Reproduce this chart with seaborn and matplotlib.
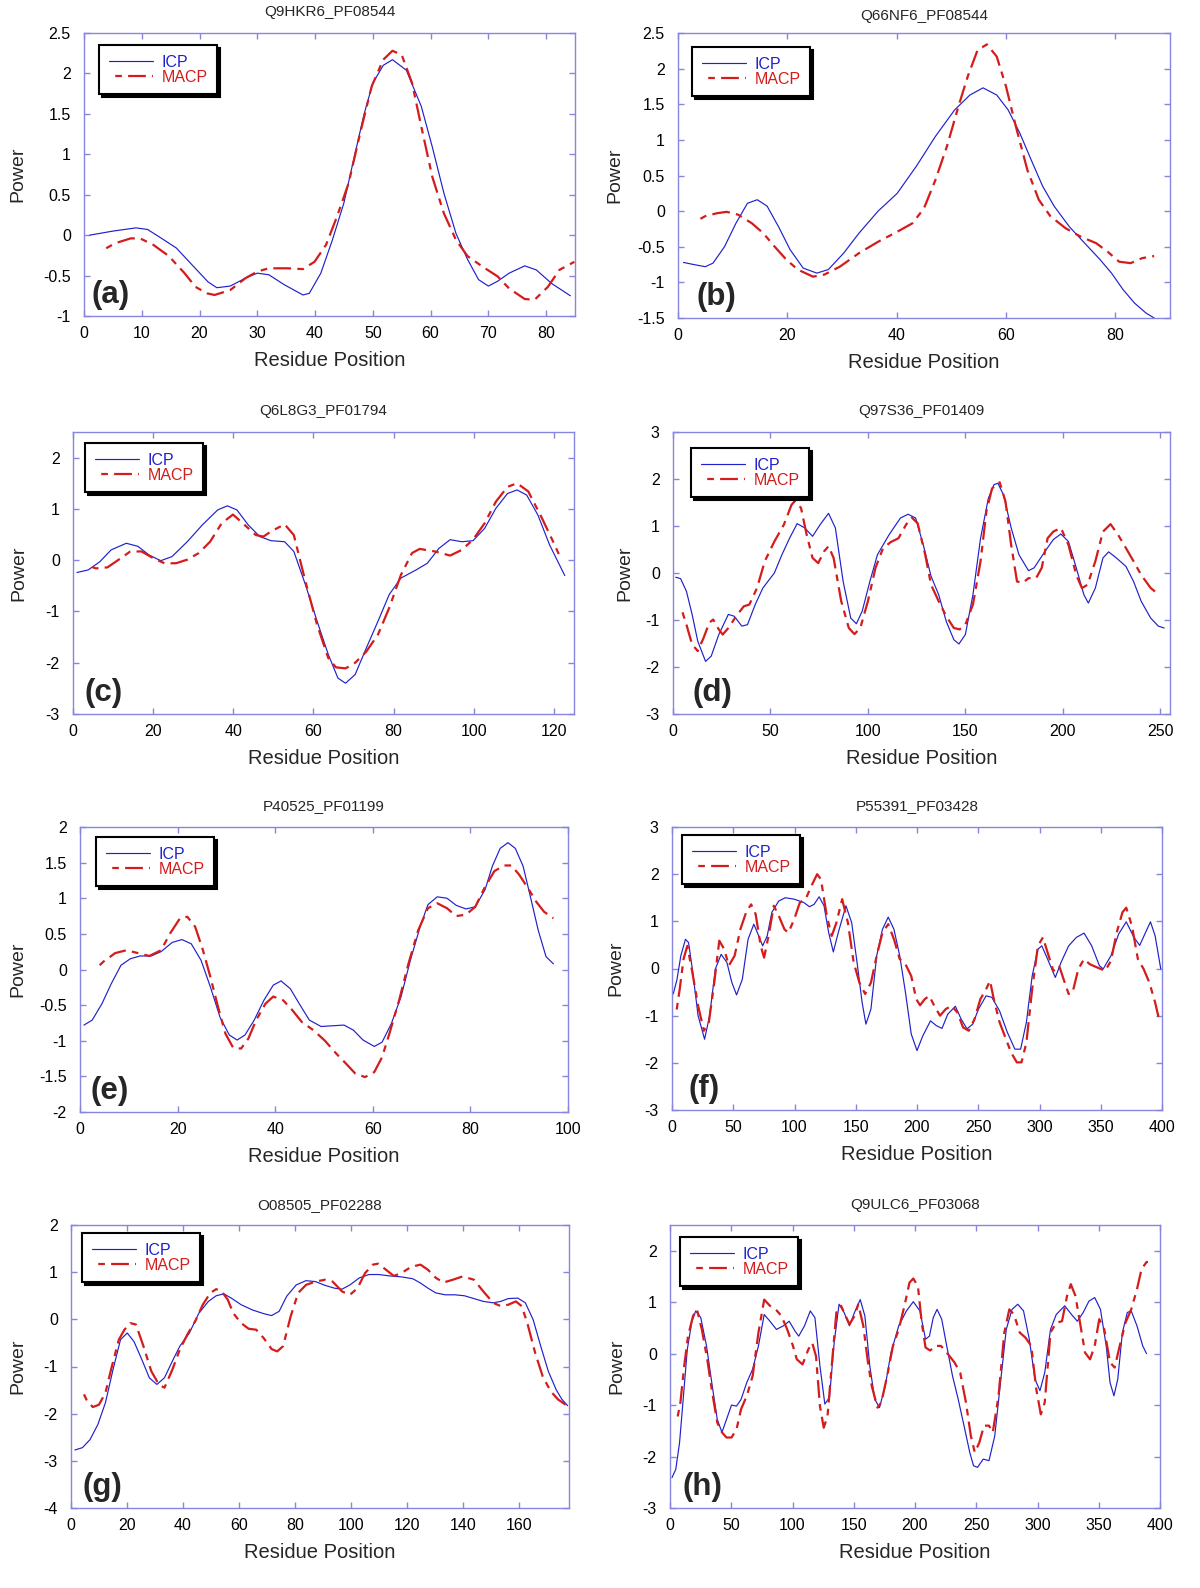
import matplotlib
matplotlib.use("Agg")
import matplotlib.pyplot as plt
from matplotlib.ticker import MultipleLocator, FuncFormatter
import pandas as pd
import seaborn as sns

# ---- values: residue position / power ----
a_icp_x = [1, 5, 9, 11, 13, 16, 19, 21.5, 23, 25.3, 28, 30, 32, 34.6, 37.9, 39, 41, 43, 45, 46.8, 48.5, 50, 51.8, 53.4, 55.8, 58.4, 60.3, 62.3, 64.4, 66.4, 68.3, 70, 71.6, 73.6, 76.3, 78.3, 81, 84.2]
a_icp_y = [0.0, 0.05, 0.09, 0.07, -0.02, -0.16, -0.39, -0.58, -0.65, -0.63, -0.53, -0.47, -0.49, -0.61, -0.74, -0.72, -0.47, -0.06, 0.4, 0.97, 1.5, 1.88, 2.1, 2.17, 2.04, 1.59, 1.09, 0.52, 0.02, -0.3, -0.55, -0.63, -0.57, -0.47, -0.38, -0.43, -0.6, -0.75]
a_macp_x = [2.9, 5.4, 8.1, 9.7, 12, 14.7, 17.4, 19.3, 21.3, 22.6, 25.3, 28, 30, 32, 35.2, 37.9, 39.9, 41.9, 43.8, 45.8, 47.8, 49.8, 51.8, 53.4, 55, 56.8, 58.4, 60.3, 62.3, 64.4, 66.4, 69, 71.6, 73.6, 76.3, 78, 80.3, 82.3, 84.9]
a_macp_y = [-0.2, -0.1, -0.04, -0.04, -0.12, -0.26, -0.47, -0.64, -0.72, -0.74, -0.68, -0.53, -0.45, -0.41, -0.41, -0.42, -0.33, -0.12, 0.23, 0.64, 1.26, 1.84, 2.17, 2.28, 2.23, 1.88, 1.34, 0.72, 0.27, -0.06, -0.26, -0.39, -0.51, -0.66, -0.79, -0.8, -0.64, -0.43, -0.33]

b_icp_x = [1, 2.9, 5, 6.4, 8.5, 10.6, 12.7, 14.5, 16.3, 18.4, 20.5, 22.9, 25.4, 27.5, 30.3, 33.1, 36.6, 40.1, 43.6, 47.1, 50.6, 53.4, 55.8, 58.3, 60.4, 62.5, 64.6, 66.7, 68.8, 71.6, 74.4, 77.2, 79.3, 81.4, 83.5, 85.6, 87.1]
b_icp_y = [-0.72, -0.75, -0.78, -0.73, -0.5, -0.17, 0.11, 0.16, 0.07, -0.22, -0.54, -0.8, -0.87, -0.82, -0.59, -0.31, 0.0, 0.25, 0.63, 1.05, 1.42, 1.63, 1.73, 1.63, 1.42, 1.1, 0.72, 0.35, 0.07, -0.22, -0.45, -0.68, -0.87, -1.1, -1.29, -1.43, -1.5]
b_macp_x = [3.1, 5, 7.1, 8.9, 11, 13.5, 15.6, 17.7, 19.8, 21.9, 24.7, 26.8, 29.6, 33.1, 36.6, 40.1, 42.9, 45, 47.1, 49.2, 51.3, 53, 54.8, 56.5, 58.3, 60, 61.8, 63.9, 66, 68.1, 70.9, 73.7, 76.5, 78.6, 80.7, 82.8, 84.9, 87.1]
b_macp_y = [-0.15, -0.07, -0.03, -0.01, -0.05, -0.17, -0.31, -0.5, -0.68, -0.82, -0.92, -0.89, -0.78, -0.59, -0.43, -0.29, -0.17, 0.04, 0.44, 0.91, 1.47, 1.89, 2.26, 2.34, 2.17, 1.75, 1.19, 0.58, 0.16, -0.07, -0.24, -0.36, -0.45, -0.57, -0.71, -0.73, -0.66, -0.63]

c_icp_x = [1, 3.8, 6.7, 9.5, 13.3, 16.2, 19, 21.9, 24.7, 28.5, 32.3, 36.1, 38.5, 40.9, 43.7, 46.6, 49.4, 52.8, 55.1, 58, 60.9, 63.7, 66.1, 68, 70.4, 73.2, 76.1, 78.9, 81.8, 85.6, 88.4, 91.3, 94.1, 97, 99.8, 102.7, 105.5, 108.4, 110.8, 113.2, 116, 118.9, 122.7]
c_icp_y = [-0.24, -0.19, -0.03, 0.2, 0.33, 0.27, 0.1, -0.01, 0.07, 0.36, 0.69, 0.98, 1.06, 0.98, 0.69, 0.46, 0.38, 0.36, 0.17, -0.48, -1.19, -1.84, -2.3, -2.4, -2.23, -1.71, -1.19, -0.67, -0.35, -0.19, -0.06, 0.23, 0.4, 0.36, 0.38, 0.62, 1.01, 1.3, 1.37, 1.27, 0.88, 0.3, -0.3]
c_macp_x = [3.3, 5.7, 8.6, 11.4, 14.3, 17.1, 20, 22.8, 25.7, 28.5, 31.4, 34.2, 37.1, 39.9, 42.8, 45.6, 47.5, 49.4, 52.8, 55.1, 58, 60.9, 63.7, 65.6, 68, 70.4, 73.2, 76.1, 78.9, 81.8, 84.6, 86.5, 90.3, 94.1, 97, 99.8, 102.7, 105.5, 108.4, 110.8, 113.6, 117, 119.8, 121.2]
c_macp_y = [-0.09, -0.16, -0.14, 0.01, 0.17, 0.17, 0.04, -0.06, -0.06, 0.01, 0.14, 0.36, 0.72, 0.89, 0.69, 0.49, 0.46, 0.56, 0.7, 0.49, -0.42, -1.26, -1.91, -2.09, -2.11, -2.0, -1.78, -1.45, -0.93, -0.29, 0.14, 0.22, 0.17, 0.09, 0.2, 0.4, 0.72, 1.14, 1.43, 1.5, 1.34, 0.82, 0.36, 0.12]

d_icp_x = [1.4, 3.9, 6.9, 9.8, 12.7, 16.7, 19.6, 23.5, 28.4, 31.4, 35.3, 38.2, 42.2, 46.1, 52, 55.9, 59.8, 63.7, 67.6, 71.6, 75.5, 79.8, 83.3, 87.3, 91.2, 94.1, 97.1, 101, 104.9, 110.8, 116.7, 120.6, 124.5, 128.4, 132.4, 136.3, 140.2, 144.1, 146.7, 150, 153.9, 157.8, 161.8, 164.7, 166.7, 169.6, 173.5, 177.5, 182.4, 185.3, 190.2, 195.1, 199, 202.9, 206.9, 210.8, 213.1, 216.7, 220.6, 223.5, 227.5, 232.4, 236.3, 240.2, 245.1, 249, 252]
d_icp_y = [-0.09, -0.12, -0.39, -0.88, -1.45, -1.88, -1.77, -1.31, -0.88, -0.92, -1.13, -1.1, -0.67, -0.32, 0.0, 0.39, 0.74, 1.05, 0.96, 0.78, 1.03, 1.27, 0.96, -0.18, -0.96, -1.08, -0.81, -0.18, 0.39, 0.81, 1.17, 1.25, 1.17, 0.6, -0.07, -0.46, -1.03, -1.42, -1.51, -1.31, -0.46, 0.74, 1.59, 1.88, 1.91, 1.66, 0.96, 0.39, 0.05, 0.11, 0.42, 0.71, 0.83, 0.67, 0.11, -0.46, -0.64, -0.32, 0.32, 0.45, 0.32, 0.14, -0.18, -0.6, -0.96, -1.13, -1.17]
d_macp_x = [3.9, 6.9, 9.8, 12.7, 15.7, 18.6, 20.6, 23.5, 25.5, 28.4, 32.4, 36.3, 39.2, 43.1, 47.1, 52, 56.9, 60.8, 62.7, 65.7, 68.6, 71.6, 74.5, 77.5, 79.8, 82.4, 86.3, 90.2, 93.1, 96.1, 100, 103.9, 107.8, 111.8, 115.7, 119.6, 122.5, 125.5, 129.4, 132.4, 136.3, 140.2, 144.1, 147.1, 150, 153.9, 157.8, 160.8, 163.7, 167.6, 170.6, 173.5, 176.5, 179.4, 182.4, 186.3, 189.2, 192.2, 195.1, 199, 202.9, 206.9, 209.8, 212.7, 216.7, 220.6, 224.5, 228.4, 232.4, 236.3, 240.2, 245.1, 249]
d_macp_y = [-0.71, -1.1, -1.52, -1.66, -1.38, -1.06, -0.99, -1.2, -1.31, -1.17, -0.92, -0.71, -0.67, -0.32, 0.25, 0.67, 1.03, 1.45, 1.54, 1.38, 0.81, 0.32, 0.21, 0.46, 0.57, 0.32, -0.6, -1.17, -1.3, -1.17, -0.6, 0.11, 0.53, 0.66, 0.74, 1.03, 1.18, 1.06, 0.39, -0.25, -0.6, -0.92, -1.17, -1.2, -1.1, -0.67, 0.25, 1.31, 1.8, 1.93, 1.52, 0.6, -0.18, -0.21, -0.11, -0.11, 0.11, 0.74, 0.88, 0.96, 0.6, -0.04, -0.32, -0.25, 0.25, 0.88, 1.04, 0.81, 0.53, 0.25, -0.04, -0.32, -0.45]

e_icp_x = [0.8, 2.5, 4.5, 6.4, 8.4, 10.3, 12.3, 14.6, 16.6, 18.9, 20.9, 22.8, 24.8, 26.7, 28.7, 30.6, 32.2, 33.8, 35.7, 37.7, 39.6, 41.2, 43.1, 45.1, 47, 49.4, 51.7, 54.1, 56, 58, 60.3, 61.9, 63.8, 65.8, 67.7, 69.7, 71.3, 73.2, 75.2, 77.1, 79.1, 81, 83, 84.5, 86.1, 87.7, 89.2, 90.8, 92.3, 93.9, 95.5, 97]
e_icp_y = [-0.78, -0.71, -0.48, -0.2, 0.06, 0.15, 0.19, 0.19, 0.25, 0.38, 0.42, 0.36, 0.13, -0.24, -0.67, -0.92, -0.99, -0.92, -0.71, -0.43, -0.22, -0.16, -0.27, -0.5, -0.71, -0.8, -0.79, -0.78, -0.85, -0.99, -1.08, -1.02, -0.76, -0.38, 0.13, 0.6, 0.91, 1.02, 1.0, 0.9, 0.85, 0.88, 1.12, 1.45, 1.7, 1.78, 1.7, 1.45, 1.02, 0.55, 0.18, 0.08]
e_macp_x = [3.1, 4.8, 7.2, 9.5, 11.9, 14.2, 16.6, 18.5, 20.5, 22, 23.6, 25.2, 26.7, 28.3, 29.8, 31.4, 33, 34.5, 36.1, 38, 39.6, 41.6, 43.5, 45.5, 47.8, 50.2, 52.5, 54.5, 56.4, 58.4, 60.3, 61.9, 63.4, 65.4, 67.3, 69.3, 71.3, 73.2, 75.2, 77.1, 79.1, 81, 83, 84.9, 86.9, 88.4, 90, 92, 93.5, 95.1, 97]
e_macp_y = [0.0, 0.11, 0.23, 0.27, 0.23, 0.19, 0.27, 0.51, 0.72, 0.74, 0.6, 0.27, -0.1, -0.53, -0.9, -1.1, -1.11, -0.97, -0.71, -0.48, -0.38, -0.43, -0.57, -0.74, -0.85, -1.0, -1.18, -1.32, -1.46, -1.51, -1.44, -1.23, -0.9, -0.43, 0.08, 0.55, 0.86, 0.93, 0.86, 0.75, 0.77, 0.88, 1.16, 1.38, 1.46, 1.46, 1.33, 1.12, 0.95, 0.81, 0.72]

f_icp_x = [1, 4.1, 7.2, 11, 13.5, 16.6, 21.3, 26.6, 30.7, 35.4, 40.1, 44.8, 48.9, 52.7, 57.4, 62.1, 66.8, 70.8, 74, 77.7, 81.5, 87.1, 92.5, 99.7, 107.5, 112.2, 116, 120.1, 124.1, 127.9, 131.7, 135.7, 142, 146.7, 151.4, 155.2, 158.3, 162.4, 167.1, 171.8, 176.5, 181.2, 185.9, 190.6, 195.3, 200, 204.7, 211, 215.7, 220.4, 225.1, 231.3, 236, 240.8, 245.5, 250.2, 256.4, 261.1, 267.4, 273.7, 279.9, 284.6, 289.3, 294, 298.7, 301.9, 306.6, 312.9, 317.6, 323.8, 330.1, 336.4, 342.6, 348.9, 352, 358.3, 364.6, 370.8, 377.1, 381.8, 386.5, 390.6, 394.4, 399]
f_icp_y = [-0.54, -0.23, 0.27, 0.62, 0.55, -0.01, -1.0, -1.5, -1.0, -0.01, 0.3, 0.13, -0.3, -0.56, -0.23, 0.62, 0.94, 0.69, 0.48, 0.69, 1.19, 1.43, 1.5, 1.47, 1.4, 1.31, 1.36, 1.52, 1.33, 0.76, 0.35, 0.76, 1.33, 0.97, 0.06, -0.72, -1.18, -0.86, 0.27, 0.83, 1.09, 0.83, 0.27, -0.51, -1.39, -1.74, -1.43, -1.11, -1.21, -1.27, -0.97, -0.8, -1.07, -1.28, -1.18, -0.86, -0.58, -0.61, -0.9, -1.35, -1.71, -1.71, -1.14, -0.16, 0.41, 0.48, 0.2, -0.19, 0.13, 0.48, 0.66, 0.75, 0.48, 0.06, -0.01, 0.27, 0.73, 0.99, 0.66, 0.49, 0.76, 0.99, 0.69, -0.01]
f_macp_x = [3.1, 6.3, 9.4, 12.5, 16.6, 21.3, 26, 30.1, 34.5, 38.6, 42.6, 46.4, 51.1, 55.8, 60.5, 64.6, 68.3, 72.4, 75.2, 79.3, 83.1, 87.1, 91.8, 95, 99.7, 104.4, 109.1, 113.8, 118.5, 121.6, 126.3, 130.4, 134.2, 138.9, 143.6, 148.3, 153, 157.7, 162.4, 167.1, 171.8, 176.5, 181.2, 185.9, 190.6, 195.3, 199.4, 202.5, 206.3, 210, 214.1, 218.8, 223.5, 228.2, 232.9, 237.6, 242.3, 247, 251.7, 256.4, 259.6, 262.7, 267.4, 272.1, 276.8, 281.5, 285.3, 289.3, 294, 298.7, 302.8, 306.6, 311.3, 316, 319.7, 323.8, 327, 331.7, 336.4, 341.1, 347.3, 353.6, 358.3, 363, 367.7, 370.8, 375.5, 380.3, 385, 389.7, 394.4, 398.1]
f_macp_y = [-1.0, -0.44, 0.2, 0.48, -0.08, -0.79, -1.32, -1.14, -0.3, 0.59, 0.41, 0.06, 0.27, 0.83, 1.19, 1.36, 1.15, 0.48, 0.23, 0.76, 1.33, 1.12, 0.83, 0.76, 1.04, 1.4, 1.47, 1.75, 2.0, 1.89, 1.12, 0.69, 0.97, 1.47, 0.97, 0.13, -0.3, -0.54, -0.3, 0.27, 0.76, 0.94, 0.62, 0.2, 0.09, -0.16, -0.65, -0.78, -0.65, -0.58, -0.79, -1.0, -0.86, -0.79, -0.93, -1.25, -1.32, -1.07, -0.65, -0.44, -0.26, -0.65, -1.14, -1.46, -1.78, -1.99, -1.99, -1.57, -0.44, 0.48, 0.66, 0.34, -0.05, 0.06, -0.23, -0.54, -0.51, -0.01, 0.2, 0.09, 0.02, -0.05, 0.16, 0.76, 1.19, 1.29, 0.9, 0.2, -0.01, -0.3, -0.72, -1.14]

g_icp_x = [1.4, 4.1, 6.8, 9.6, 12.3, 15, 17.7, 20.1, 22.5, 25.3, 28, 30.7, 33.4, 36.2, 38.9, 42.3, 45.7, 49.1, 51.9, 54.6, 57.3, 60.8, 64.8, 68.9, 71.7, 74.4, 77.1, 80.5, 84, 87.4, 90.8, 94.2, 96.9, 99.7, 103.1, 106.5, 109.9, 114, 118.1, 122.2, 124.9, 127.6, 130.4, 133.8, 137.2, 140.6, 144, 147.4, 150.9, 153.6, 156.3, 159.7, 162.4, 165.2, 167.9, 170.6, 173.4, 175.4, 177.5]
g_icp_y = [-2.77, -2.72, -2.55, -2.23, -1.77, -1.07, -0.43, -0.29, -0.47, -0.85, -1.24, -1.38, -1.24, -0.89, -0.57, -0.29, 0.13, 0.38, 0.5, 0.54, 0.45, 0.31, 0.2, 0.12, 0.08, 0.17, 0.49, 0.73, 0.82, 0.8, 0.72, 0.66, 0.64, 0.73, 0.88, 0.95, 0.95, 0.92, 0.9, 0.86, 0.77, 0.66, 0.56, 0.52, 0.52, 0.5, 0.44, 0.38, 0.35, 0.38, 0.44, 0.45, 0.35, -0.01, -0.57, -1.1, -1.49, -1.69, -1.83]
g_macp_x = [3.7, 5.5, 7.8, 10, 12.3, 14.3, 17.1, 19.1, 21.2, 23.2, 25.9, 28.7, 31.4, 33.4, 36.2, 38.9, 41.6, 44.4, 47.1, 49.8, 51.9, 53.9, 56, 58, 60.8, 63.5, 66.2, 68.9, 71.7, 73.7, 75.8, 78.5, 81.2, 84, 87.4, 90.8, 93.5, 96.9, 99.7, 102.4, 105.1, 107.9, 109.9, 112.6, 115.4, 118.1, 121.5, 124.9, 127.6, 130.4, 133.1, 136.5, 140, 144, 147.4, 150.9, 153.6, 156.3, 159, 161.1, 163.1, 165.9, 168.6, 171.4, 174.1, 176.8]
g_macp_y = [-1.47, -1.7, -1.86, -1.81, -1.56, -1.07, -0.43, -0.22, -0.08, -0.11, -0.57, -1.1, -1.38, -1.45, -1.07, -0.64, -0.32, -0.04, 0.31, 0.56, 0.64, 0.59, 0.42, 0.13, -0.08, -0.2, -0.22, -0.4, -0.63, -0.68, -0.57, 0.06, 0.56, 0.73, 0.8, 0.84, 0.8, 0.59, 0.52, 0.66, 0.98, 1.16, 1.18, 1.05, 0.92, 0.98, 1.11, 1.16, 1.05, 0.88, 0.78, 0.84, 0.91, 0.84, 0.59, 0.35, 0.28, 0.31, 0.38, 0.28, -0.08, -0.71, -1.21, -1.52, -1.7, -1.81]

h_icp_x = [1.6, 4.7, 7.8, 11, 14.1, 17.9, 21, 25.1, 29.8, 34.5, 38.6, 42.4, 46.1, 50.2, 54.3, 58, 62.7, 67.5, 72.2, 76.9, 81.6, 86.9, 92.5, 97.3, 102, 105.1, 109.8, 114.5, 118.3, 122.4, 126.4, 130.2, 134, 138, 142.1, 146.5, 150.6, 155.3, 159.1, 163.1, 167.2, 171, 175.7, 180.4, 186.7, 193, 198.6, 204, 208.6, 211.8, 214.9, 218, 221.8, 225.9, 230.6, 235.3, 240, 244.7, 247.8, 251, 255.7, 260.4, 265.1, 269.8, 274.5, 279.2, 283.9, 288.6, 293.3, 298, 302, 305.9, 310.6, 315.3, 322.2, 327.8, 332.5, 337.3, 342, 346.7, 351.4, 356.1, 359.2, 362.4, 365.5, 369.3, 373.3, 376.5, 381.2, 385.9, 389]
h_icp_y = [-2.41, -2.25, -1.73, -0.82, 0.08, 0.63, 0.83, 0.7, 0.15, -0.63, -1.28, -1.53, -1.28, -1.0, -1.02, -0.89, -0.56, -0.3, 0.15, 0.76, 0.63, 0.47, 0.54, 0.63, 0.44, 0.34, 0.54, 0.83, 0.7, -0.24, -0.98, -0.85, 0.21, 0.96, 0.8, 0.54, 0.8, 1.05, 0.73, -0.24, -0.89, -1.05, -0.63, 0.02, 0.54, 0.83, 1.01, 0.83, 0.28, 0.34, 0.7, 0.86, 0.67, 0.15, -0.43, -0.89, -1.4, -1.92, -2.18, -2.21, -2.05, -2.08, -1.6, -0.56, 0.47, 0.86, 0.96, 0.83, 0.28, -0.5, -0.72, -0.37, 0.47, 0.76, 0.93, 0.76, 0.63, 0.8, 1.02, 1.09, 0.86, 0.15, -0.56, -0.82, -0.5, 0.41, 0.8, 0.83, 0.54, 0.15, 0.0]
h_macp_x = [5.3, 8.5, 11.6, 14.7, 18.8, 22, 26, 30.4, 34.5, 38.6, 42.4, 46.1, 50.2, 54.3, 58, 62.7, 67.5, 72.2, 76.9, 81.6, 86.3, 91, 95.7, 100.4, 103.5, 108.2, 112.9, 116.1, 119.2, 122.4, 125.5, 128.6, 131.8, 135.8, 139.6, 143.4, 146.5, 150.6, 153.7, 157.8, 161.6, 164.7, 169.4, 172.5, 177.3, 182, 186.7, 191.4, 195.5, 198.6, 202.4, 205.5, 208.6, 212.4, 216.5, 221.2, 225.9, 232.2, 236.9, 241.6, 245.6, 248.8, 252.5, 256.3, 260.4, 263.5, 268.2, 272.9, 277, 280.8, 285.5, 290.2, 294.9, 299, 302.7, 305.9, 310.6, 315.3, 320, 324.1, 327.2, 331, 334.7, 338.8, 342.9, 346.7, 350.4, 354.5, 359.2, 363, 367.1, 371.8, 376.5, 381.2, 384.9, 389, 393.7]
h_macp_y = [-1.34, -0.95, -0.24, 0.34, 0.73, 0.86, 0.47, -0.11, -0.76, -1.34, -1.53, -1.63, -1.63, -1.47, -1.08, -0.82, -0.43, 0.41, 1.05, 0.93, 0.86, 0.73, 0.47, 0.15, -0.11, -0.21, 0.08, 0.21, -0.05, -1.02, -1.44, -1.21, -0.3, 0.8, 0.93, 0.73, 0.57, 0.73, 0.96, 0.54, -0.17, -0.63, -1.05, -0.95, -0.43, 0.15, 0.47, 0.93, 1.38, 1.46, 1.31, 0.6, 0.12, 0.06, 0.15, 0.15, 0.02, -0.17, -0.37, -0.95, -1.6, -1.92, -1.73, -1.4, -1.4, -1.53, -0.82, 0.41, 0.86, 0.76, 0.41, 0.31, 0.15, -0.69, -1.18, -0.95, 0.41, 0.6, 0.63, 1.12, 1.35, 1.12, 0.6, 0.02, -0.11, 0.15, 0.67, 0.47, -0.17, -0.27, 0.15, 0.6, 0.86, 1.25, 1.64, 1.78, 1.78]

titles = ["Q9HKR6_PF08544", "Q66NF6_PF08544", "Q6L8G3_PF01794", "Q97S36_PF01409",
          "P40525_PF01199", "P55391_PF03428", "O08505_PF02288", "Q9ULC6_PF03068"]
tags = ["(a)", "(b)", "(c)", "(d)", "(e)", "(f)", "(g)", "(h)"]
series_names = ["ICP", "MACP"]

sns.set_style("white")
plt.rcParams["font.family"] = ["Liberation Sans", "DejaVu Sans"]
plt.rcParams["axes.unicode_minus"] = False

W, H = 1200, 1588
fig = plt.figure(figsize=(W / 100, H / 100), dpi=100)

blue = "#2020cc"
red = "#d41c1c"
frame = "#8686e0"
macp_dash = (8, (8, 2.8, 3, 2.8))   # long dash, gap, short dash, gap (starts on the gap)

# per panel layout: axes box in pixels (left, top, right, bottom), axis ranges
layout = [
    dict(icp=(a_icp_x, a_icp_y), macp=(a_macp_x, a_macp_y), xlim=(0, 85), xstep=10,
         ylim=(-1, 2.5), ystep=0.5, box=(84, 33, 575, 316), tgap=22, tagdx=7, leg=(15, 12), ylx=15),
    dict(icp=(b_icp_x, b_icp_y), macp=(b_macp_x, b_macp_y), xlim=(0, 90), xstep=20,
         ylim=(-1.5, 2.5), ystep=0.5, box=(678, 33, 1170, 318), tgap=18, tagdx=19, leg=(14, 14), ylx=612),
    dict(icp=(c_icp_x, c_icp_y), macp=(c_macp_x, c_macp_y), xlim=(0, 125), xstep=20,
         ylim=(-3, 2.5), ystep=1, box=(73, 432, 574, 714), tgap=22, tagdx=12, leg=(12, 11), ylx=16),
    dict(icp=(d_icp_x, d_icp_y), macp=(d_macp_x, d_macp_y), xlim=(0, 255), xstep=50,
         ylim=(-3, 3), ystep=1, box=(673, 432, 1170, 714), tgap=22, tagdx=19, leg=(18, 16), ylx=622),
    dict(icp=(e_icp_x, e_icp_y), macp=(e_macp_x, e_macp_y), xlim=(0, 100), xstep=20,
         ylim=(-2, 2), ystep=0.5, box=(80, 827, 568, 1112), tgap=22, tagdx=11, leg=(16, 10), ylx=15),
    dict(icp=(f_icp_x, f_icp_y), macp=(f_macp_x, f_macp_y), xlim=(0, 400), xstep=50,
         ylim=(-3, 3), ystep=1, box=(672, 827, 1162, 1110), tgap=22, tagdx=16, leg=(10, 8), ylx=613),
    dict(icp=(g_icp_x, g_icp_y), macp=(g_macp_x, g_macp_y), xlim=(0, 178), xstep=20,
         ylim=(-4, 2), ystep=1, box=(71, 1225, 569, 1508), tgap=21, tagdx=12, leg=(11, 8), ylx=15),
    dict(icp=(h_icp_x, h_icp_y), macp=(h_macp_x, h_macp_y), xlim=(0, 400), xstep=50,
         ylim=(-3, 2.5), ystep=1, box=(670, 1225, 1160, 1508), tgap=21, tagdx=12, leg=(10, 12), ylx=614),
]

fmt = FuncFormatter(lambda v, pos: "%g" % v)

for p, title, tag in zip(layout, titles, tags):
    l, t, r, b = p["box"]
    aw, ah = r - l, b - t
    ax = fig.add_axes([l / W, 1 - b / H, aw / W, ah / H])

    df = pd.concat([
        pd.DataFrame({"x": p["icp"][0], "y": p["icp"][1], "series": "ICP"}),
        pd.DataFrame({"x": p["macp"][0], "y": p["macp"][1], "series": "MACP"}),
    ], ignore_index=True)

    sns.lineplot(data=df, x="x", y="y", hue="series", size="series",
                 hue_order=series_names, size_order=series_names,
                 palette={"ICP": blue, "MACP": red},
                 sizes={"ICP": 0.85, "MACP": 1.6},
                 sort=False, estimator=None, legend=False, ax=ax)
    ax.lines[1].set_linestyle(macp_dash)

    ax.set_xlim(*p["xlim"])
    ax.set_ylim(*p["ylim"])
    ax.xaxis.set_major_locator(MultipleLocator(p["xstep"]))
    ax.yaxis.set_major_locator(MultipleLocator(p["ystep"]))
    ax.xaxis.set_major_formatter(fmt)
    ax.yaxis.set_major_formatter(fmt)
    ax.tick_params(direction="in", length=4, width=1, color=frame, labelcolor="black",
                   labelsize=11.5, bottom=True, left=True, top=True, right=True)
    ax.tick_params(axis="x", pad=7.5)
    ax.tick_params(axis="y", pad=9.5)
    for s in ax.spines.values():
        s.set_color(frame)
        s.set_linewidth(1)

    ax.set_title(title, fontsize=11, pad=(p["tgap"] - 5.4) * 0.72)
    ax.set_xlabel("Residue Position", fontsize=14.5)
    ax.xaxis.set_label_coords(0.5, -35 / ah)
    ax.set_ylabel("Power", fontsize=14)
    ax.yaxis.set_label_coords((p["ylx"] + 11 - l) / aw, 0.5)

    ax.text(p["tagdx"] / aw, 6 / ah, tag, transform=ax.transAxes, fontsize=22.5,
            fontweight="bold", ha="left", va="bottom")

    leg = ax.legend(handles=ax.lines[:2], labels=series_names, loc="upper left",
                    bbox_to_anchor=(p["leg"][0] / aw, 1 - p["leg"][1] / ah), borderaxespad=0,
                    fontsize=11.5, labelcolor="linecolor", frameon=True, fancybox=False,
                    edgecolor="black", framealpha=1,
                    shadow={"ox": 2.3, "oy": -2.3, "shade": 1.0, "alpha": 1},
                    handlelength=2.8, handletextpad=0.5, borderpad=0.6, labelspacing=0.0)
    leg.get_frame().set_linewidth(1.5)

fig.savefig("out.png", dpi=100, facecolor="white")
